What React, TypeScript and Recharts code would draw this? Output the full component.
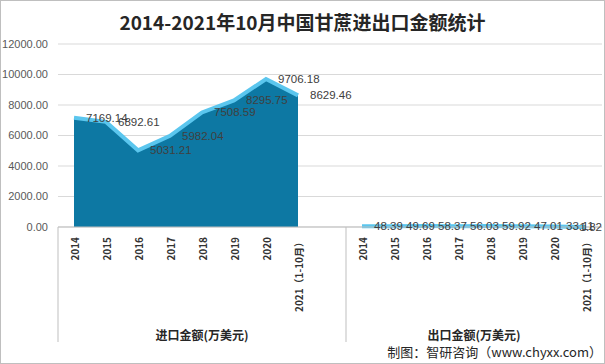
import React from "react";
import {
  AreaChart,
  Area,
  XAxis,
  YAxis,
  CartesianGrid,
  LabelList,
} from "recharts";

const categories = ["2014", "2015", "2016", "2017", "2018", "2019", "2020", "2021（1-10月）"];
const importValues = [7169.14, 6892.61, 5031.21, 5982.04, 7508.59, 8295.75, 9706.18, 8629.46];
const exportValues = [48.39, 49.69, 58.37, 56.03, 59.92, 47.01, 33.11, 1.82];
const groupLabels = ["进口金额(万美元)", "出口金额(万美元)"];
const yTicks = [0, 2000, 4000, 6000, 8000, 10000, 12000];

const W = 605;
const H = 364;
const PLOT_LEFT = 58;
const PLOT_RIGHT = 602;
const AXIS_BOTTOM = 342;

type Row = { key: string; label: string; imp: number | null; exp: number | null };

const data: Row[] = [
  ...categories.map((c, i) => ({ key: `im-${i}`, label: c, imp: importValues[i], exp: null })),
  { key: "gap", label: "", imp: null, exp: null },
  ...categories.map((c, i) => ({ key: `ex-${i}`, label: c, imp: null, exp: exportValues[i] })),
];

const STEP = (PLOT_RIGHT - PLOT_LEFT) / data.length;

const CategoryTick = (props: any) => {
  const { x, y, payload } = props;
  const idx = payload.index;
  const row = data[idx];
  const lineStyle = { stroke: "#bfbfbf", strokeWidth: 1 };
  return (
    <g>
      {idx === 0 && (
        <line x1={x - STEP / 2} x2={x - STEP / 2} y1={y} y2={AXIS_BOTTOM} {...lineStyle} />
      )}
      {idx === categories.length && (
        <line x1={x + STEP / 2} x2={x + STEP / 2} y1={y} y2={AXIS_BOTTOM} {...lineStyle} />
      )}
      {row && row.label && (
        <text
          x={x}
          y={y + 10}
          transform={`rotate(-90, ${x}, ${y + 10})`}
          textAnchor="end"
          dominantBaseline="central"
          fontSize={10}
          fontWeight="bold"
          fontFamily="'Noto Sans CJK SC', sans-serif"
          fill="#333"
        >
          {row.label}
        </text>
      )}
      {idx === 4 && (
        <text x={x} y={334} textAnchor="middle" dominantBaseline="central" fontSize={12}
          fontWeight="bold" fontFamily="'Noto Sans CJK SC', sans-serif" fill="#262626">
          {groupLabels[0]}
        </text>
      )}
      {idx === 12 && (
        <text x={x + STEP / 2} y={334} textAnchor="middle" dominantBaseline="central" fontSize={12}
          fontWeight="bold" fontFamily="'Noto Sans CJK SC', sans-serif" fill="#262626">
          {groupLabels[1]}
        </text>
      )}
    </g>
  );
};

const ValueLabel = (props: any) => {
  const { x, y, value } = props;
  if (value == null) return null;
  const text = value.toFixed(2);
  const estW = text.length * 5.9;
  let tx = x + 12;
  let anchor: "start" | "end" = "start";
  if (tx + estW > PLOT_RIGHT) {
    tx = PLOT_RIGHT;
    anchor = "end";
  }
  return (
    <text
      x={tx}
      y={y}
      textAnchor={anchor}
      dominantBaseline="central"
      fontSize={11.5}
      fontFamily="'Liberation Sans', Arial, sans-serif"
      fill="#404040"
    >
      {text}
    </text>
  );
};

export default function App() {
  return (
    <div style={{ position: "relative", width: W, height: H, background: "#fff" }}>
      <style>{"body{margin:0}"}</style>
      <div
        style={{
          position: "absolute",
          top: 8,
          left: 0,
          width: W,
          textAlign: "center",
          fontFamily: "'Noto Sans CJK SC', sans-serif",
          fontWeight: "bold",
          fontSize: 19,
          lineHeight: "28px",
          color: "#262626",
        }}
      >
        2014-2021年10月中国甘蔗进出口金额统计
      </div>
      <AreaChart
        width={W}
        height={H}
        data={data}
        margin={{ top: 44, right: W - PLOT_RIGHT, bottom: 0, left: 0 }}
      >
        <CartesianGrid vertical={false} stroke="#d9d9d9" />
        <XAxis
          dataKey="key"
          interval={0}
          tickSize={0}
          tickMargin={0}
          height={H - 227}
          padding={{ left: STEP / 2, right: STEP / 2 }}
          axisLine={{ stroke: "#bfbfbf" }}
          tickLine={false}
          tick={<CategoryTick />}
        />
        <YAxis
          width={PLOT_LEFT}
          domain={[0, 12000]}
          ticks={yTicks}
          tickFormatter={(v: number) => v.toFixed(2)}
          axisLine={false}
          tickLine={false}
          tickSize={0}
          tickMargin={10}
          tick={{ fill: "#595959", fontSize: 11, fontFamily: "'Liberation Sans', Arial, sans-serif" }}
        />
        <Area
          type="linear"
          dataKey="imp"
          fill="#0d78a3"
          fillOpacity={1}
          stroke="#5bc6ee"
          strokeWidth={4}
          dot={false}
          activeDot={false}
          connectNulls={false}
          isAnimationActive={false}
        >
          <LabelList dataKey="imp" content={<ValueLabel />} />
        </Area>
        <Area
          type="linear"
          dataKey="exp"
          fill="#0d78a3"
          fillOpacity={1}
          stroke="#5bc6ee"
          strokeWidth={4}
          dot={false}
          activeDot={false}
          connectNulls={false}
          isAnimationActive={false}
        >
          <LabelList dataKey="exp" content={<ValueLabel />} />
        </Area>
      </AreaChart>
      <div
        style={{
          position: "absolute",
          right: 3,
          top: 343,
          fontFamily: "'Noto Sans CJK SC', sans-serif",
          fontSize: 13,
          lineHeight: "18px",
          color: "#262626",
          whiteSpace: "nowrap",
        }}
      >
        制图：智研咨询（www.chyxx.com）
      </div>
      <div
        style={{
          position: "absolute",
          inset: 0,
          border: "1px solid #bfbfbf",
          pointerEvents: "none",
        }}
      />
    </div>
  );
}
